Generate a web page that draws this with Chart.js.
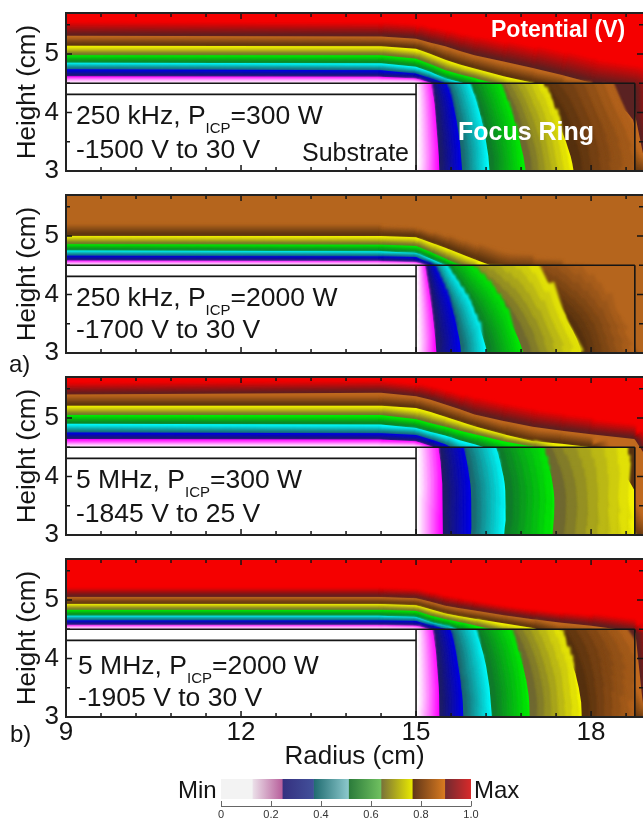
<!DOCTYPE html>
<html><head><meta charset="utf-8">
<script src="https://cdn.jsdelivr.net/npm/chart.js@4"></script>
<style>html,body{margin:0;padding:0;background:#fff;width:643px;height:820px;overflow:hidden}canvas{position:absolute;display:block}</style>
</head><body>
<script>
// ---------- axes ----------
const xMajorTicks=[9,12,15,18];
const xMinorTicks=[9.6,10.2,10.8,11.4,12.6,13.2,13.8,14.4,15.6,16.2,16.8,17.4,18.6];
const yMajorTicks=[3,4,5];
const yMinorTicks=[3.5,4.5,5.5];
// ---------- contour sampling positions ----------
const plasmaRadius=[9,14.4,15,15.25,15.5,15.75,16,16.5,17,17.5,18,18.74,18.76,18.89];
const ringHeight=[4.5,4.375,4.25,4.125,4,3.875,3.75,3.625,3.5,3.375,3.25,3.125,3];
// ---------- plasma contours: height (cm) at plasmaRadius, lowest level first ----------
const plasmaA300=[
[4.51,4.51,4.50,4.40,4.38,4.36,4.34,4.32,4.30,4.28,4.26,2.9,2.9,2.9],
[4.62,4.61,4.58,4.51,4.42,4.38,4.36,4.34,4.32,4.30,4.28,2.9,2.9,2.9],
[4.74,4.72,4.66,4.58,4.50,4.42,4.38,4.36,4.34,4.32,4.30,2.9,2.9,2.9],
[4.85,4.84,4.78,4.69,4.58,4.52,4.45,4.38,4.36,4.34,4.32,2.9,2.9,2.9],
[4.98,4.98,4.92,4.82,4.72,4.65,4.59,4.45,4.38,4.36,4.34,2.9,2.9,2.9],
[5.14,5.13,5.09,5.00,4.90,4.82,4.75,4.62,4.51,4.42,4.38,2.9,2.9,2.9],
[5.31,5.30,5.26,5.19,5.13,5.05,4.98,4.87,4.76,4.64,4.51,4.40,3.93,3.30],
[5.58,5.58,5.55,5.50,5.45,5.40,5.35,5.27,5.20,5.12,5.05,4.85,4.80,4.60]];
const plasmaA2000=[
[4.50,4.50,4.49,4.40,4.38,4.36,4.34,4.32,4.30,4.28,4.26,2.9,2.9,2.9],
[4.58,4.57,4.55,4.48,4.40,4.38,4.36,4.34,4.32,4.30,4.28,2.9,2.9,2.9],
[4.66,4.65,4.64,4.52,4.42,4.40,4.38,4.36,4.34,4.32,4.30,2.9,2.9,2.9],
[4.75,4.74,4.71,4.61,4.50,4.42,4.40,4.38,4.36,4.34,4.32,2.9,2.9,2.9],
[4.86,4.85,4.83,4.72,4.61,4.50,4.42,4.40,4.38,4.36,4.34,2.9,2.9,2.9],
[5.00,5.00,4.98,4.89,4.80,4.70,4.60,4.42,4.40,4.38,4.36,2.9,2.9,2.9],
[5.25,5.22,5.15,5.10,5.05,4.98,4.90,4.80,4.70,4.60,4.50,3.0,3.0,3.0]];
const plasmaB300=[
[4.50,4.50,4.49,4.40,4.38,4.36,4.34,4.32,4.30,4.28,4.26,2.9,2.9,2.9],
[4.64,4.63,4.60,4.52,4.42,4.38,4.36,4.34,4.32,4.30,4.28,2.9,2.9,2.9],
[4.75,4.74,4.71,4.63,4.55,4.42,4.38,4.36,4.34,4.32,4.30,2.9,2.9,2.9],
[4.90,4.89,4.83,4.76,4.70,4.62,4.55,4.40,4.36,4.34,4.32,2.9,2.9,2.9],
[5.05,5.05,4.98,4.91,4.85,4.78,4.72,4.60,4.51,4.38,4.34,2.9,2.9,2.9],
[5.21,5.21,5.17,5.10,5.02,4.94,4.86,4.72,4.60,4.56,4.50,2.9,2.9,2.9],
[5.40,5.43,5.37,5.31,5.23,5.15,5.06,4.95,4.85,4.78,4.72,4.64,4.62,4.42],
[5.65,5.65,5.62,5.58,5.50,5.45,5.40,5.30,5.20,5.12,5.05,4.90,4.88,4.70]];
const plasmaB2000=[
[4.50,4.50,4.49,4.40,4.38,4.36,4.34,4.32,4.30,4.28,4.26,2.9,2.9,2.9],
[4.57,4.57,4.56,4.50,4.40,4.38,4.36,4.34,4.32,4.30,4.28,2.9,2.9,2.9],
[4.65,4.65,4.64,4.56,4.51,4.40,4.38,4.36,4.34,4.32,4.30,2.9,2.9,2.9],
[4.73,4.73,4.71,4.62,4.56,4.49,4.40,4.38,4.36,4.34,4.32,2.9,2.9,2.9],
[4.83,4.83,4.81,4.73,4.67,4.62,4.57,4.45,4.38,4.36,4.34,2.9,2.9,2.9],
[4.93,4.93,4.91,4.84,4.77,4.72,4.68,4.60,4.52,4.40,4.36,2.9,2.9,2.9],
[5.05,5.05,5.03,4.97,4.90,4.86,4.82,4.74,4.67,4.61,4.56,4.46,4.44,3.20],
[5.23,5.23,5.20,5.15,5.10,5.05,5.00,4.92,4.85,4.80,4.78,4.72,4.70,4.50]];
// ---------- focus-ring contours: radius (cm) at ringHeight, lowest level first ----------
const ringStart=[15,15,15,15,15,15,15,15,15,15,15,15,15];
const ringA300=[ringStart,
[15.24,15.27,15.30,15.32,15.33,15.34,15.35,15.36,15.37,15.38,15.39,15.395,15.40],
[15.51,15.56,15.60,15.63,15.66,15.69,15.71,15.73,15.75,15.76,15.77,15.78,15.79],
[15.90,15.96,16.01,16.05,16.09,16.12,16.15,16.18,16.20,16.22,16.24,16.25,16.26],
[16.39,16.46,16.52,16.58,16.63,16.67,16.71,16.75,16.78,16.81,16.84,16.86,16.88],
[17.06,17.14,17.22,17.29,17.36,17.42,17.47,17.52,17.57,17.61,17.65,17.68,17.70],
[18.04,18.18,18.33,18.47,18.62,18.72,18.75,18.75,18.75,18.75,18.75,18.75,18.75]];
const ringA2000=[ringStart,
[15.15,15.17,15.19,15.21,15.23,15.25,15.27,15.285,15.30,15.315,15.33,15.34,15.35],
[15.30,15.35,15.40,15.455,15.51,15.56,15.61,15.65,15.68,15.71,15.74,15.76,15.77],
[15.50,15.57,15.65,15.725,15.80,15.88,15.95,16.01,16.06,16.11,16.15,16.19,16.22],
[15.81,15.92,16.03,16.15,16.27,16.37,16.47,16.55,16.62,16.69,16.75,16.80,16.84],
[16.30,16.48,16.67,16.88,17.07,17.24,17.38,17.50,17.61,17.69,17.75,17.80,17.83],
[16.70,17.00,17.30,17.55,17.80,18.00,18.20,18.33,18.45,18.53,18.60,18.65,18.70]];
const ringB300=[ringStart,
[15.38,15.40,15.42,15.43,15.44,15.45,15.46,15.46,15.46,15.46,15.46,15.46,15.46],
[15.81,15.84,15.87,15.89,15.91,15.93,15.94,15.945,15.95,15.95,15.95,15.945,15.94],
[16.37,16.41,16.44,16.47,16.50,16.52,16.53,16.54,16.54,16.535,16.53,16.52,16.51],
[17.15,17.20,17.24,17.28,17.32,17.34,17.36,17.37,17.37,17.365,17.36,17.35,17.34],
[18.27,18.36,18.45,18.53,18.60,18.68,18.75,18.75,18.75,18.75,18.75,18.75,18.75]];
const ringB2000=[ringStart,
[15.27,15.30,15.32,15.34,15.35,15.36,15.37,15.38,15.39,15.395,15.40,15.40,15.40],
[15.58,15.62,15.65,15.68,15.70,15.72,15.74,15.76,15.77,15.79,15.80,15.805,15.81],
[16.00,16.05,16.10,16.14,16.17,16.20,16.22,16.24,16.26,16.27,16.28,16.29,16.30],
[16.58,16.64,16.70,16.75,16.79,16.83,16.86,16.89,16.91,16.93,16.94,16.945,16.95],
[17.33,17.42,17.50,17.57,17.63,17.68,17.73,17.76,17.79,17.81,17.83,17.84,17.84],
[18.50,18.63,18.75,18.75,18.75,18.75,18.75,18.75,18.75,18.75,18.75,18.75,18.75]];
// ---------- colour bar ----------
const barEdges=[0,0.125,0.245,0.37,0.51,0.64,0.765,0.895,1];
const barTicks=[0,0.2,0.4,0.6,0.8,1];
// ---------- styles ----------
const darkShades=['#ffffff','#1c1c66','#1a6a70','#0f7a2a','#6f6830','#55300e','#5a2020'];
const brightShades=['#ff00ff','#0000ee','#00ffff','#00f000','#f4f400','#c0691e','#f50000'];
const barStart=['#f3f3f3','#ece2ea','#35307f','#1f6b70','#2a7a3a','#78703a','#5f3518','#6f2a30'];
const barEnd=['#f3f3f3','#b8609c','#42509a','#8cc8cc','#70c060','#e8e800','#d87a20','#d82a2a'];
const R_MIN=9,R_MAX=18.89,Z_MIN=3,Z_MAX=5.7,RING_R=18.75,RING_Z=4.5,WAFER_R=15,WAFER_Z=4.31;
const AREA_H=158,AREA_L=66,PAGE_W=643,PAD_TOP=8;
const PX_R=(PAGE_W-AREA_L)/(R_MAX-R_MIN),PX_Z=AREA_H/(Z_MAX-Z_MIN);
const LEVELS=8;
const FONT='"Liberation Sans",Arial,sans-serif';
const INK='#151515';

function mix(a,b,t){const p=h=>[1,3,5].map(i=>parseInt(h.substr(i,2),16));const A=p(a),B=p(b);
  return 'rgb('+A.map((v,i)=>Math.round(v+(B[i]-v)*t)).join(',')+')';}
function polygon(points,color,extra){return Object.assign({data:points,showLine:true,fill:'shape',backgroundColor:color,borderWidth:0,pointRadius:0,pointHoverRadius:0,tension:0},extra||{});}
function stroke(points,color,widths,factor,extra){return Object.assign({data:points,showLine:true,fill:false,borderColor:color,borderWidth:1,pointRadius:0,tension:0,borderCapStyle:'butt',borderJoinStyle:'round',soft:true,
  segment:{borderWidth:c=>Math.max(0.5,(widths[c.p0DataIndex]+widths[c.p1DataIndex])*factor)}},extra||{});}
function rule(points,w){return {data:points,showLine:true,fill:false,borderColor:INK,borderWidth:w,pointRadius:0,tension:0};}

function buildDatasets(plasma,ring,ringBase,orange){
  const bright=brightShades.slice();bright[5]=orange;
  const out=[];
  const n=plasma.length-1;
  out.push(polygon([{x:R_MIN,y:Z_MIN},{x:R_MIN,y:Z_MAX+0.1},{x:R_MAX,y:Z_MAX+0.1},{x:R_MAX,y:Z_MIN}],bright[n-1]));
  for(let k=n;k>=1;k--){
    const up=plasma[k],lo=plasma[k-1],band=k-1;
    out.push(polygon([{x:R_MIN,y:Z_MIN}].concat(plasmaRadius.map((r,i)=>({x:r,y:up[i]})),[{x:R_MAX,y:Z_MIN}]),bright[band]));
    const w=lo.map((z,i)=>Math.min(0.5,Math.max(0,up[i]-z))*PX_Z);
    const line=plasmaRadius.map((r,i)=>({x:r,y:lo[i]}));
    for(let j=LEVELS-2;j>=0;j--)
      out.push(stroke(line,mix(darkShades[band],bright[band],j/(LEVELS-1)),w,0.92*(j+1)/LEVELS));
  }
  out.push(polygon([{x:R_MIN,y:Z_MIN}].concat(plasmaRadius.map((r,i)=>({x:r,y:plasma[0][i]})),[{x:R_MAX,y:Z_MIN}]),'#ffffff'));
  // focus ring
  out.push(polygon([{x:WAFER_R,y:Z_MIN},{x:WAFER_R,y:RING_Z},{x:RING_R,y:RING_Z},{x:RING_R,y:Z_MIN}],ringBase));
  const clip={top:-(Z_MAX-RING_Z)*PX_Z,right:-(R_MAX-RING_R)*PX_R,left:0,bottom:0};
  for(let k=ring.length-1;k>=1;k--){
    const up=ring[k],lo=ring[k-1],band=k-1;
    out.push(polygon([{x:WAFER_R,y:Z_MIN},{x:WAFER_R,y:RING_Z}].concat(ringHeight.map((z,i)=>({x:up[i],y:z}))),bright[band],{indexAxis:'y'}));
    const w=lo.map((r,i)=>(up[i]-r)*PX_R);
    const line=ringHeight.map((z,i)=>({x:lo[i],y:z}));
    for(let j=LEVELS-2;j>=0;j--)
      out.push(stroke(line,mix(darkShades[band],bright[band],j/(LEVELS-1)),w,(j+1)/LEVELS,{clip:clip,borderCapStyle:'square'}));
  }
  // substrate and outlines
  out.push(polygon([{x:R_MIN,y:Z_MIN},{x:R_MIN,y:RING_Z},{x:WAFER_R,y:RING_Z},{x:WAFER_R,y:Z_MIN}],'#ffffff'));
  out.push(rule([{x:R_MIN,y:RING_Z},{x:RING_R,y:RING_Z}],1.6));
  out.push(rule([{x:R_MIN,y:WAFER_Z},{x:WAFER_R,y:WAFER_Z}],1.6));
  out.push(rule([{x:WAFER_R,y:RING_Z},{x:WAFER_R,y:Z_MIN}],1.6));
  out.push(rule([{x:RING_R,y:RING_Z},{x:RING_R,y:Z_MIN}],1.6));
  const N=out.length;
  out.forEach((d,i)=>{d.order=N-i;});
  return out;
}

function drawText(ctx,ox,oy,items){
  ctx.save();ctx.textBaseline='alphabetic';ctx.textAlign='left';
  for(const it of items){
    let x=it.x-ox;const y=it.y-oy;
    for(const p of it.parts){
      ctx.font=(it.bold?'bold ':'')+(p.sub?15:it.size)+'px '+FONT;
      ctx.fillStyle=it.color||INK;
      ctx.fillText(p.t,x,y+(p.sub?9:0));
      x+=ctx.measureText(p.t).width;
    }
  }
  ctx.restore();
}
const softPlugin={id:'soft',
  beforeDatasetDraw(chart,args){if(chart.data.datasets[args.index].soft){chart.ctx.save();chart.ctx.filter='blur(1.4px)';}},
  afterDatasetDraw(chart,args){if(chart.data.datasets[args.index].soft){chart.ctx.restore();}}};
function framePlugin(top,items){return {id:'frame',afterDatasetsDraw(chart){
  const {ctx,chartArea:a,scales:{x,y}}=chart;
  ctx.save();ctx.strokeStyle=INK;
  ctx.lineWidth=1.5;ctx.beginPath();
  const vt=(v,l)=>{const p=x.getPixelForValue(v);ctx.moveTo(p,a.top);ctx.lineTo(p,a.top+l);ctx.moveTo(p,a.bottom);ctx.lineTo(p,a.bottom-l);};
  const ht=(v,l)=>{const p=y.getPixelForValue(v);ctx.moveTo(a.left,p);ctx.lineTo(a.left+l,p);ctx.moveTo(a.right,p);ctx.lineTo(a.right-l,p);};
  xMajorTicks.forEach(v=>vt(v,6));xMinorTicks.forEach(v=>vt(v,4));
  yMajorTicks.forEach(v=>ht(v,6));yMinorTicks.forEach(v=>ht(v,4));
  ctx.stroke();
  ctx.lineWidth=2;ctx.strokeStyle='#222';ctx.beginPath();
  ctx.moveTo(a.right,a.top);ctx.lineTo(a.left,a.top);ctx.lineTo(a.left,a.bottom);ctx.lineTo(a.right,a.bottom);ctx.stroke();
  ctx.restore();
},afterDraw(chart){drawText(chart.ctx,0,top,items);}};}

function makeCanvas(left,top,w,h){const c=document.createElement('canvas');c.width=w;c.height=h;c.style.left=left+'px';c.style.top=top+'px';c.style.width=w+'px';c.style.height=h+'px';document.body.appendChild(c);return c;}

function panel(areaTop,plasma,ring,ringBase,orange,items,showX,below){
  const top=areaTop-PAD_TOP,axisH=showX?70:below;
  const c=makeCanvas(0,top,PAGE_W,PAD_TOP+AREA_H+axisH);
  new Chart(c,{type:'scatter',data:{datasets:buildDatasets(plasma,ring,ringBase,orange)},
   plugins:[softPlugin,framePlugin(top,items)],
   options:{responsive:false,animation:false,events:[],layout:{padding:{top:PAD_TOP,left:0,right:0,bottom:0},autoPadding:false},
    plugins:{legend:{display:false},tooltip:{enabled:false},title:{display:false}},
    scales:{
     x:{type:'linear',min:R_MIN,max:R_MAX,grid:{display:false,drawTicks:false},border:{display:false},
        ticks:{display:showX,stepSize:3,includeBounds:false,autoSkip:false,maxRotation:0,padding:0,color:INK,font:{family:FONT,size:26}},
        title:{display:showX,text:'Radius (cm)',color:INK,font:{family:FONT,size:26},padding:{top:0,bottom:15}},
        afterFit(s){s.height=axisH;s.paddingLeft=0;s.paddingRight=0;}},
     y:{type:'linear',min:Z_MIN,max:Z_MAX,grid:{display:false,drawTicks:false},border:{display:false},
        ticks:{stepSize:1,includeBounds:false,autoSkip:false,padding:7,color:INK,font:{family:FONT,size:26}},
        title:{display:true,text:'Height (cm)',color:INK,font:{family:FONT,size:26},padding:{top:12,bottom:0}},
        afterFit(s){s.width=AREA_L;s.paddingTop=0;s.paddingBottom=0;}}
    }}});
}
function label(x,y,size,parts,extra){return Object.assign({x,y,size,parts:parts.map(p=>typeof p==='string'?{t:p}:p)},extra||{});}
const ICP={t:'ICP',sub:true};

panel(13,plasmaA300,ringA300,'#5a2222','#c0691e',[
  label(76,124,26.5,['250 kHz, P',ICP,'=300 W']),
  label(76,158,26.5,['-1500 V to 30 V']),
  label(302,161,25,['Substrate']),
  label(491,37,23,['Potential (V)'],{bold:true,color:'#ffffff'}),
  label(458,140,25,['Focus Ring'],{bold:true,color:'#ffffff'})],false,14);
panel(195,plasmaA2000,ringA2000,'#b5651d','#b5651d',[
  label(76,306,26.5,['250 kHz, P',ICP,'=2000 W']),
  label(76,338,26.5,['-1700 V to 30 V']),
  label(9,372,24,['a)'])],false,24);
panel(377,plasmaB300,ringB300,'#5a3210','#c0691e',[
  label(76,488,26.5,['5 MHz, P',ICP,'=300 W']),
  label(76,522,26.5,['-1845 V to 25 V'])],false,14);
panel(559,plasmaB2000,ringB2000,'#5a2222','#c0691e',[
  label(78,674,26.5,['5 MHz, P',ICP,'=2000 W']),
  label(78,706,26.5,['-1905 V to 30 V']),
  label(10,742,24,['b)'])],true,0);

// colour bar
(function(){
  const L=170,T=770,W=360,H=50;
  const c=makeCanvas(L,T,W,H);
  const ds=[];
  for(let i=0;i<barEdges.length-1;i++){
    const a=barEdges[i],b=barEdges[i+1];
    ds.push({data:[[a,b]],barPercentage:1,categoryPercentage:1,grouped:false,borderWidth:0,
      backgroundColor(ctx){const s=ctx.chart.scales.x;if(!s)return barEnd[i];
        const p0=s.getPixelForValue(a),p1=s.getPixelForValue(b);
        if(!Number.isFinite(p0)||!Number.isFinite(p1))return barEnd[i];
        const g=ctx.chart.ctx.createLinearGradient(p0,0,p1,0);
        g.addColorStop(0,barStart[i]);g.addColorStop(1,barEnd[i]);return g;}});
  }
  new Chart(c,{type:'bar',data:{labels:['Potential'],datasets:ds},
   plugins:[{id:'barAxis',afterDraw(chart){
      const {ctx,chartArea:a,scales:{x}}=chart;
      ctx.save();ctx.strokeStyle='#666';ctx.lineWidth=1;ctx.beginPath();
      const yb=a.bottom+7.5;ctx.moveTo(a.left,yb);ctx.lineTo(a.right,yb);
      barTicks.forEach(v=>{const p=Math.round(x.getPixelForValue(v))+0.5;ctx.moveTo(p,a.bottom+2);ctx.lineTo(p,yb);});
      ctx.stroke();ctx.restore();
      drawText(ctx,L,T,[label(178,798,24,['Min']),label(474,798,24,['Max'])]);
   }}],
   options:{indexAxis:'y',responsive:false,animation:false,events:[],
    layout:{padding:{left:51,right:59,top:9,bottom:0},autoPadding:false},
    plugins:{legend:{display:false},tooltip:{enabled:false}},
    scales:{
     x:{type:'linear',min:0,max:1,grid:{display:false,drawTicks:false},border:{display:false},
        afterBuildTicks(s){s.ticks=barTicks.map(v=>({value:v}));},
        ticks:{autoSkip:false,maxRotation:0,padding:9,color:'#333',font:{family:FONT,size:11},callback:v=>v===0?'0':v.toFixed(1)},
        afterFit(s){s.height=21;s.paddingLeft=0;s.paddingRight=0;}},
     y:{display:false}
    }}});
})();
</script>
</body></html>
